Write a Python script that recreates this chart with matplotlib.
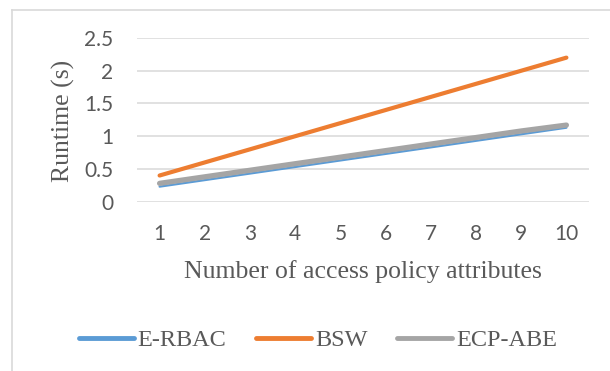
import matplotlib
matplotlib.use("Agg")
import matplotlib.pyplot as plt
from matplotlib.lines import Line2D

categories = [1, 2, 3, 4, 5, 6, 7, 8, 9, 10]
erbac = [0.23, 0.33, 0.43, 0.53, 0.63, 0.73, 0.83, 0.93, 1.03, 1.13]
bsw = [0.40, 0.60, 0.80, 1.00, 1.20, 1.40, 1.60, 1.80, 2.00, 2.20]
ecpabe = [0.28, 0.38, 0.48, 0.58, 0.68, 0.78, 0.88, 0.98, 1.08, 1.17]
yticks = [0, 0.5, 1, 1.5, 2, 2.5]
ytick_labels = ["0", "0.5", "1", "1.5", "2", "2.5"]

text_color = "#595959"
grid_color = "#d9d9d9"
c_blue, c_orange, c_gray = "#5B9BD5", "#ED7D31", "#A5A5A5"

W, H = 610, 371
fig = plt.figure(figsize=(W / 100, H / 100), dpi=100)
fig.patch.set_facecolor("white")

# chart-area border (top and left visible)
fig.add_artist(Line2D([11.5 / W, 1.0], [1 - 9.5 / H, 1 - 9.5 / H], color="#d9d9d9", lw=1.2))
fig.add_artist(Line2D([11.5 / W, 11.5 / W], [0, 1 - 9.5 / H], color="#d9d9d9", lw=1.2))

ax = fig.add_axes([137 / W, 1 - 201.7 / H, (589 - 137) / W, (201.7 - 38) / H])
ax.set_xlim(0.5, 10.5)
ax.set_ylim(0, 2.5)

for y in yticks:
    ax.axhline(y, color=grid_color, lw=1.1, zorder=1)

ax.plot(categories, ecpabe, color=c_gray, lw=3.8, solid_capstyle="round", zorder=3, label="ECP-ABE")
ax.plot(categories, erbac, color=c_blue, lw=1.6, solid_capstyle="round", zorder=2, label="E-RBAC")
ax.plot(categories, bsw, color=c_orange, lw=3.0, solid_capstyle="round", zorder=5, label="BSW")

for s in ax.spines.values():
    s.set_visible(False)
ax.set_yticks(yticks)
ax.set_yticklabels(ytick_labels)
ax.set_xticks(categories)
ax.set_xticklabels([str(c) for c in categories])
ax.tick_params(axis="both", length=0, colors=text_color, labelsize=15)
ax.tick_params(axis="y", pad=17)
ax.tick_params(axis="x", pad=16)
for lbl in ax.get_xticklabels() + ax.get_yticklabels():
    lbl.set_family("Lato")

fig.text(63 / W, 1 - 120.5 / H, "Runtime (s)", rotation=90, ha="center", va="center",
         color=text_color, fontsize=18.5, family="Liberation Serif")
fig.text(362.5 / W, 1 - 272 / H, "Number of access policy attributes", ha="center", va="center",
         color=text_color, fontsize=18.5, family="Liberation Serif")

handles = [Line2D([0], [0], color=c_blue, lw=3.5, solid_capstyle="round"),
           Line2D([0], [0], color=c_orange, lw=3.5, solid_capstyle="round"),
           Line2D([0], [0], color=c_gray, lw=3.5, solid_capstyle="round")]
leg = fig.legend(handles, ["E-RBAC", "BSW", "ECP-ABE"], loc="center",
                 bbox_to_anchor=(318 / W, 1 - 340 / H), ncol=3, frameon=False,
                 handlelength=2.26, handletextpad=0.16, columnspacing=1.23,
                 borderpad=0, borderaxespad=0,
                 prop={"family": "Liberation Serif", "size": 17.5})
for t in leg.get_texts():
    t.set_color(text_color)

fig.savefig("out.png", dpi=100, facecolor="white")
